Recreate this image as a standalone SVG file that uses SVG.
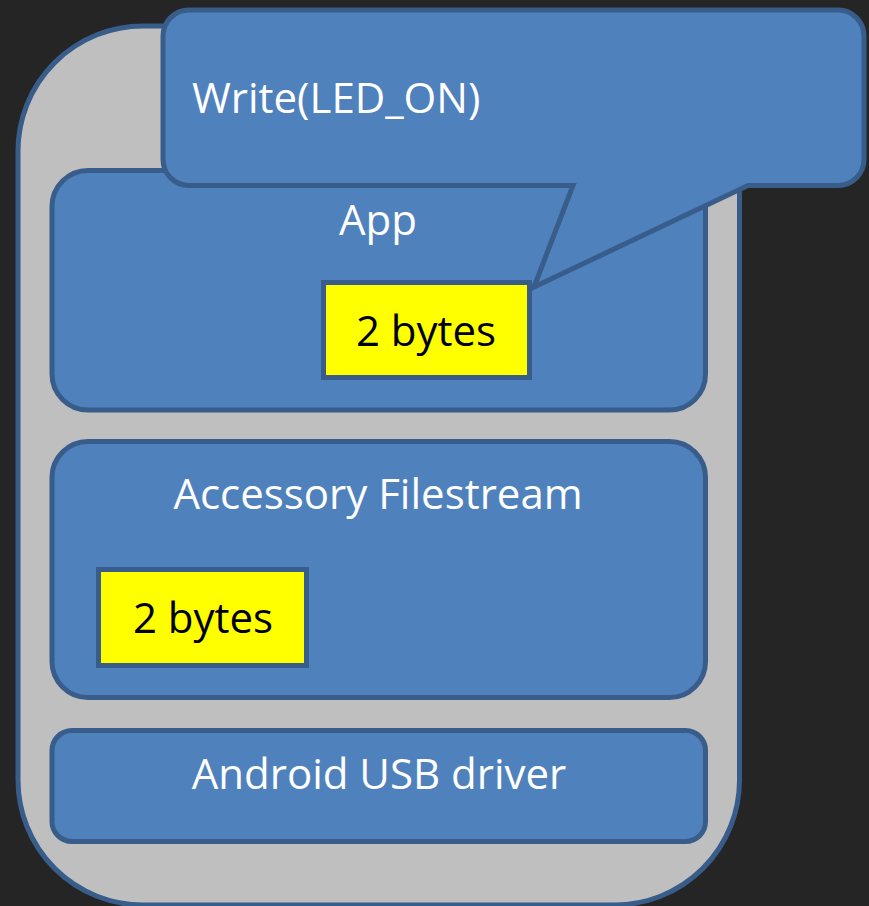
<svg xmlns="http://www.w3.org/2000/svg" width="869" height="906" viewBox="0 0 869 906">
  <style>
    .blue { fill: #4f81bd; stroke: #385d8a; stroke-width: 5; }
    .yellow { fill: #ffff00; stroke: #385d8a; stroke-width: 5; }
    .outer { fill: #bfbfbf; stroke: #385d8a; stroke-width: 5; }
    .lbl { font-family: "Open Sans", "Liberation Sans", sans-serif; font-size: 42px; fill: #ffffff; }
    .dark { fill: #000000; }
    .mid { text-anchor: middle; }
  </style>
  <rect x="0" y="0" width="869" height="906" fill="#252525"/>
  <g id="device">
    <rect class="outer" x="18" y="26" width="721.5" height="879" rx="125" ry="125"/>
  </g>
  <g id="app">
    <rect class="blue" x="52" y="170.5" width="653.5" height="239.5" rx="36" ry="36"/>
    <text class="lbl mid" x="378" y="235">App</text>
  </g>
  <g id="accessory-filestream">
    <rect class="blue" x="52" y="441.5" width="653.5" height="256" rx="36" ry="36"/>
    <text class="lbl mid" x="378" y="509">Accessory Filestream</text>
  </g>
  <g id="android-usb-driver">
    <rect class="blue" x="52" y="730.5" width="653.5" height="111" rx="20" ry="20"/>
    <text class="lbl mid" x="379" y="789">Android USB driver</text>
  </g>
  <g id="app-bytes">
    <rect class="yellow" x="323.5" y="282.5" width="206" height="95"/>
    <text class="lbl dark mid" x="426" y="346">2 bytes</text>
  </g>
  <g id="filestream-bytes">
    <rect class="yellow" x="98.5" y="569.5" width="208" height="96"/>
    <text class="lbl dark mid" x="203" y="633">2 bytes</text>
  </g>
  <g id="write-callout">
    <path class="blue" d="M 189,10 H 838 A 26 26 0 0 1 864,36 V 159.5 A 26 26 0 0 1 838,185.5 H 748 L 534,287 L 573,185.5 H 189 A 26 26 0 0 1 163,159.5 V 36 A 26 26 0 0 1 189,10 Z"/>
    <text class="lbl" x="192" y="113">Write(LED_ON)</text>
  </g>
  <g id="connectors"></g>
</svg>
